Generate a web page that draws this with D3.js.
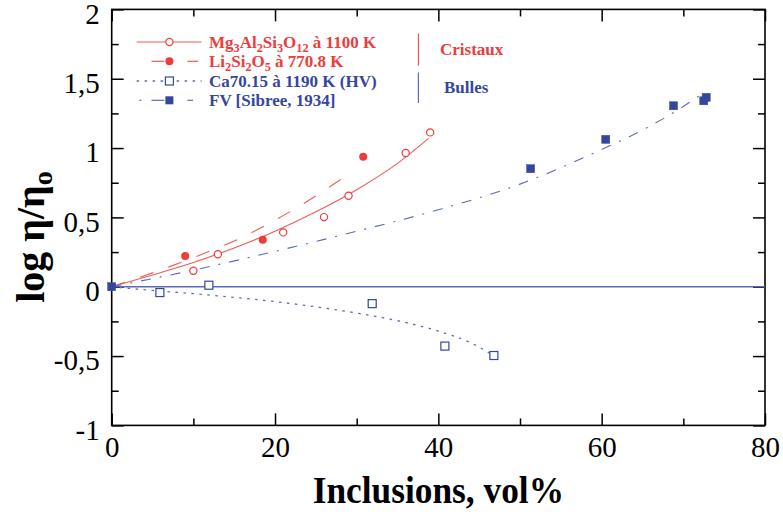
<!DOCTYPE html>
<html><head><meta charset="utf-8">
<script src="https://cdnjs.cloudflare.com/ajax/libs/d3/7.8.5/d3.min.js"></script>
<style>
html,body{margin:0;padding:0;background:#fff;}
svg{display:block;font-family:"Liberation Serif","Times New Roman",serif;}
</style></head>
<body><svg id="c" width="783" height="515"></svg>
<script>
// ---- data ----
const xTicksMajor = [0, 20, 40, 60, 80];
const xTicksMinor = [10, 30, 50, 70];
const yTicksMajor = [-1, -0.5, 0, 0.5, 1, 1.5, 2];
const yTicksMinor = [-0.75, -0.25, 0.25, 0.75, 1.25, 1.75];

// Mg3Al2Si3O12 à 1100 K (open circles) + fit
const mgX = [10, 13, 21, 26, 29, 36, 39];
const mgY = [0.115, 0.234, 0.392, 0.502, 0.656, 0.964, 1.113];
const mgFitX = [0, 5, 10, 15, 20, 25, 30, 35, 38.8];
const mgFitY = [0, 0.085, 0.175, 0.28, 0.40, 0.54, 0.70, 0.89, 1.07];

// Li2Si2O5 à 770.8 K (filled circles) + fit
const liX = [9, 18.5, 30.8];
const liY = [0.221, 0.339, 0.937];
const liFitX = [0, 5, 10, 15, 20, 25, 29.2];
const liFitY = [0, 0.10, 0.21, 0.33, 0.48, 0.655, 0.82];

// Ca70.15 à 1190 K (HV) (open squares) + fit
const caX = [5.9, 11.9, 31.9, 40.8, 46.8];
const caY = [-0.042, 0.011, -0.122, -0.428, -0.496];
const caFitX = [0, 5, 10, 15, 20, 25, 30, 35, 40, 44, 47];
const caFitY = [0, -0.027, -0.05, -0.077, -0.107, -0.145, -0.19, -0.245, -0.32, -0.405, -0.505];

// FV [Sibree, 1934] (filled squares) + fit
const fvX = [0, 51.3, 60.5, 68.8, 72.5, 72.8];
const fvY = [0, 0.851, 1.063, 1.305, 1.341, 1.366];
const fvFitX = [0, 10, 20, 30, 40, 50, 60, 65, 70, 72.5];
const fvFitY = [0, 0.12, 0.255, 0.40, 0.555, 0.74, 0.99, 1.13, 1.30, 1.40];

const legendLabels = ["Mg_3Al_2Si_3O_{12} à 1100 K", "Li_2Si_2O_5 à 770.8 K", "Ca70.15 à 1190 K (HV)", "FV [Sibree, 1934]"];
const groupLabels = ["Cristaux", "Bulles"];
const xTitle = "Inclusions, vol%";

// ---- style ----
const RED = "#ee3b3b", REDL = "#f05a5a", BLUE = "#35469e", BLUEL = "#5b6bb8";

const svg = d3.select("#c");
const x = d3.scaleLinear().domain([0, 80]).range([111.7, 765]);
const y = d3.scaleLinear().domain([-1, 2]).range([425.4, 9.4]);

const fmt = d => String(d).replace(".", ",");

// frame
svg.append("rect").attr("x", x(0)).attr("y", y(2)).attr("width", x(80) - x(0)).attr("height", y(-1) - y(2))
  .attr("fill", "none").attr("stroke", "#000").attr("stroke-width", 1.6);

function axisG(axis, tx, ty) {
  const g = svg.append("g").attr("transform", `translate(${tx},${ty})`).call(axis);
  g.select(".domain").remove();
  g.selectAll(".tick line").attr("stroke", "#000").attr("stroke-width", 1.5);
  g.selectAll("text").attr("font-family", "Liberation Serif").attr("font-size", 29).attr("fill", "#000");
  return g;
}
// bottom
const gb = axisG(d3.axisBottom(x).tickValues(xTicksMajor).tickSizeInner(-12).tickSizeOuter(0).tickPadding(12).tickFormat(fmt), 0, y(-1));
gb.selectAll("text").attr("dy", "0.71em").attr("y", 11);
axisG(d3.axisBottom(x).tickValues(xTicksMinor).tickSizeInner(-7).tickSizeOuter(0).tickFormat(""), 0, y(-1));
axisG(d3.axisTop(x).tickValues(xTicksMajor).tickSizeInner(-12).tickSizeOuter(0).tickFormat(""), 0, y(2));
axisG(d3.axisTop(x).tickValues(xTicksMinor).tickSizeInner(-7).tickSizeOuter(0).tickFormat(""), 0, y(2));
// left
const gl = axisG(d3.axisLeft(y).tickValues(yTicksMajor).tickSizeInner(-12).tickSizeOuter(0).tickPadding(12).tickFormat(fmt), x(0), 0);
gl.selectAll("text").attr("dy", "0.47em");
axisG(d3.axisLeft(y).tickValues(yTicksMinor).tickSizeInner(-7).tickSizeOuter(0).tickFormat(""), x(0), 0);
axisG(d3.axisRight(y).tickValues(yTicksMajor).tickSizeInner(-12).tickSizeOuter(0).tickFormat(""), x(80), 0);
axisG(d3.axisRight(y).tickValues(yTicksMinor).tickSizeInner(-7).tickSizeOuter(0).tickFormat(""), x(80), 0);

// zero line
svg.append("line").attr("x1", x(0)).attr("x2", x(80)).attr("y1", y(0)).attr("y2", y(0))
  .attr("stroke", BLUEL).attr("stroke-width", 1.4);

// fit curves
const line = d3.line().x(d => x(d[0])).y(d => y(d[1])).curve(d3.curveMonotoneX);
const zip = (a, b) => a.map((v, i) => [v, b[i]]);
function curve(xs, ys, color, dash, w) {
  svg.append("path").datum(zip(xs, ys)).attr("d", line).attr("fill", "none")
    .attr("stroke", color).attr("stroke-width", w || 1.1).attr("stroke-dasharray", dash || null);
}
curve(mgFitX, mgFitY, REDL, null, 1.1);
curve(liFitX, liFitY, REDL, "14,16", 1.1);
curve(caFitX, caFitY, BLUEL, "2.5,5.5", 1.3);
curve(fvFitX, fvFitY, BLUEL, "10,9,2,9", 1.1);

// markers
function circles(xs, ys, filled) {
  svg.append("g").selectAll("circle").data(zip(xs, ys)).join("circle")
    .attr("cx", d => x(d[0])).attr("cy", d => y(d[1])).attr("r", filled ? 4 : 3.6)
    .attr("fill", filled ? RED : "#fff").attr("stroke", RED).attr("stroke-width", filled ? 0 : 1.2);
}
function squares(xs, ys, filled) {
  const s = 8;
  svg.append("g").selectAll("rect").data(zip(xs, ys)).join("rect")
    .attr("x", d => x(d[0]) - s / 2).attr("y", d => y(d[1]) - s / 2).attr("width", s).attr("height", s)
    .attr("fill", filled ? BLUE : "#fff").attr("stroke", BLUE).attr("stroke-width", filled ? 0.5 : 1.2);
}
circles(mgX, mgY, false);
circles(liX, liY, true);
squares(caX, caY, false);
squares(fvX, fvY, true);

// ---- legend ----
function richText(g, str, size) {
  const t = g.append("text").attr("font-size", size).attr("font-weight", "bold");
  const re = /_\{([^}]*)\}|_(.)|([^_]+)/g;
  let m, shifted = false;
  while ((m = re.exec(str)) !== null) {
    const sub = m[1] !== undefined ? m[1] : m[2];
    if (sub !== undefined) {
      t.append("tspan").attr("font-size", size * 0.72).attr("dy", shifted ? 0 : 4).text(sub);
      shifted = true;
    } else {
      t.append("tspan").attr("dy", shifted ? -4 : 0).text(m[3]);
      shifted = false;
    }
  }
  return t;
}
const rowsY = [42, 61.3, 81, 100.3];
const lx0 = 136.6, lx1 = 201.6, mx = 169.4;
const lg = svg.append("g");
// row 1
lg.append("line").attr("x1", lx0).attr("x2", lx1).attr("y1", rowsY[0]).attr("y2", rowsY[0]).attr("stroke", REDL).attr("stroke-width", 1.2);
lg.append("circle").attr("cx", mx).attr("cy", rowsY[0]).attr("r", 3.6).attr("fill", "#fff").attr("stroke", RED).attr("stroke-width", 1.2);
// row 2
[[151.5, 164.4], [187.4, 198.2]].forEach(s => lg.append("line").attr("x1", s[0]).attr("x2", s[1]).attr("y1", rowsY[1]).attr("y2", rowsY[1]).attr("stroke", REDL).attr("stroke-width", 1.2));
lg.append("circle").attr("cx", mx).attr("cy", rowsY[1]).attr("r", 4).attr("fill", RED);
// row 3
lg.append("line").attr("x1", lx0).attr("x2", lx1).attr("y1", rowsY[2]).attr("y2", rowsY[2]).attr("stroke", BLUEL).attr("stroke-width", 1.3).attr("stroke-dasharray", "2.5,5.5");
lg.append("rect").attr("x", mx - 4).attr("y", rowsY[2] - 4).attr("width", 8).attr("height", 8).attr("fill", "#fff").attr("stroke", BLUE).attr("stroke-width", 1.2);
// row 4
[[139.5, 141.5], [151.5, 164.4], [187.4, 193]].forEach(s => lg.append("line").attr("x1", s[0]).attr("x2", s[1]).attr("y1", rowsY[3]).attr("y2", rowsY[3]).attr("stroke", BLUEL).attr("stroke-width", 1.2));
lg.append("rect").attr("x", mx - 4).attr("y", rowsY[3] - 4).attr("width", 8).attr("height", 8).attr("fill", BLUE);

legendLabels.forEach((lab, i) => {
  richText(lg, lab, 17).attr("x", 209).attr("y", rowsY[i] + 5.5).attr("fill", i < 2 ? RED : BLUE);
});
lg.append("line").attr("x1", 418.4).attr("x2", 418.4).attr("y1", 33.5).attr("y2", 65.7).attr("stroke", REDL).attr("stroke-width", 1.2);
lg.append("line").attr("x1", 418.4).attr("x2", 418.4).attr("y1", 72.5).attr("y2", 103).attr("stroke", BLUEL).attr("stroke-width", 1.2);
lg.append("text").attr("x", 440).attr("y", 55).attr("font-size", 17).attr("font-weight", "bold").attr("fill", RED).text(groupLabels[0]);
lg.append("text").attr("x", 444).attr("y", 92.5).attr("font-size", 17).attr("font-weight", "bold").attr("fill", BLUE).text(groupLabels[1]);

// ---- axis titles ----
svg.append("text").attr("transform", `translate(${(x(0) + x(80)) / 2},503) scale(0.93,1)`).attr("text-anchor", "middle")
  .attr("font-size", 38).attr("font-weight", "bold").attr("fill", "#000").text(xTitle);
const yt = svg.append("text").attr("transform", "translate(44,237) rotate(-90)").attr("text-anchor", "middle")
  .attr("font-size", 40).attr("font-weight", "bold").attr("fill", "#000");
yt.append("tspan").text("log η/η");
yt.append("tspan").attr("font-size", 28).attr("dy", 8).text("o");
</script>
</body></html>
